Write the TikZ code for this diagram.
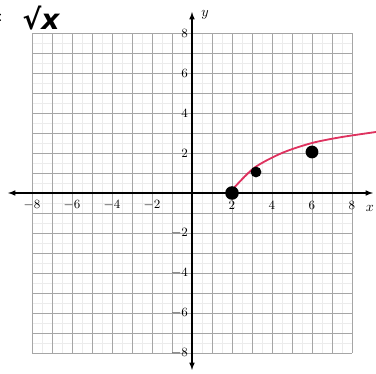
\documentclass[tikz,border=0pt]{standalone}
\usepackage{fontspec}
\newfontfamily\handfont{DejaVu Sans}
\definecolor{curvered}{RGB}{222,50,95}
\tikzset{
    tick/.style={font=\small, inner sep=1pt},
    dot/.style={circle, fill=black, inner sep=0pt}
}
\begin{document}
\begin{tikzpicture}[scale=0.5, every node/.style={scale=1}]
        \useasboundingbox (-9.6,-9.05) rectangle (9.2,9.65);
        % grid
        \draw[color = gray!15, very thin] (-8,-8) grid[step=0.5] (8,8);
        \draw[color = gray!70, line width=0.5pt] (-8,-8) grid (8,8);
        % axes
        \coordinate (xl) at (-9.2,0);
        \coordinate (xr) at (9.05,0);
        \coordinate (yb) at (0,-8.85);
        \coordinate (yt) at (0,9.05);
        \draw[color = black, thick, <->, >=latex] (xl) -- (xr);
        \draw[color = black, thick, <->, >=latex] (yb) -- (yt);
        \node (xlab) at (8.9,-0.75) {$x$};
        \node (ylab) at (0.65,8.9) {$y$};
        \foreach \v [count=\i] in {-8,-6,-4,-2,2,4,6,8} {
            \node[tick] (xt\i) at (\v,-0.62) {$\v$};
            \node[tick, anchor=east] (yt\i) at (-0.12,\v) {$\v$};
        }
        % curve and points
        \draw[color = curvered, line width=1.3pt, smooth] plot coordinates {(2.05,0.2) (3.1,1.25) (4.5,2) (6,2.5) (7.5,2.8) (9.2,3.05)};
        \node[dot, minimum size=0.34cm] (p0) at (2,0) {};
        \node[dot, minimum size=0.27cm] (p1) at (3.2,1.05) {};
        \node[dot, minimum size=0.32cm] (p2) at (6,2.05) {};
        % handwriting
        \node[font=\handfont\fontsize{20}{20}\selectfont\bfseries\itshape] (hw) at (-7.55,8.75) {√x};
        \node[font=\large] (cut) at (-9.58,8.75) {:};
\end{tikzpicture}
\end{document}
